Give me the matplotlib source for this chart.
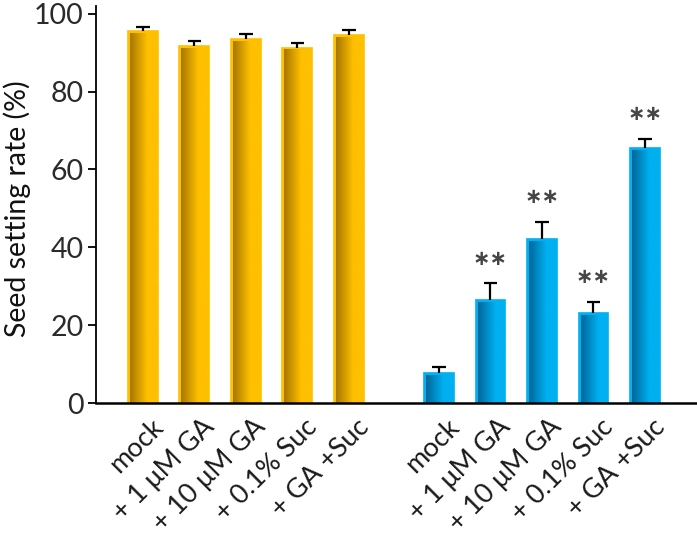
import matplotlib
matplotlib.use("Agg")
import matplotlib.pyplot as plt
import matplotlib.transforms as mtransforms
import numpy as np
from matplotlib.colors import LinearSegmentedColormap

plt.rcParams['font.family'] = ['Lato', 'DejaVu Sans']

labels = ["mock", "+ 1 μM GA", "+ 10 μM GA", "+ 0.1% Suc", "+ GA +Suc"]
wt_values = [95.6, 91.8, 93.5, 91.3, 94.6]
wt_err = [0.9, 1.2, 1.3, 1.3, 1.3]
mut_values = [7.7, 26.5, 42.2, 23.1, 65.5]
mut_err = [1.6, 4.3, 4.3, 2.9, 2.4]
mut_sig = ["", "**", "**", "**", "**"]

yticks = [0, 20, 40, 60, 80, 100]

fig = plt.figure(figsize=(6.97, 5.36), dpi=100)
ax = fig.add_axes([96/697, 1-403/536, 1-96/697, (403-6)/536])

pos_wt = np.arange(5)
pos_mut = np.arange(5) + 5.75
width = 0.58
cap_half = 0.13

def grad_bars(positions, values, errs, dark, bright):
    bars = ax.bar(positions, values, width, color=bright, edgecolor=bright, linewidth=1.2, zorder=2)
    cmap = LinearSegmentedColormap.from_list("g", [(0, dark), (0.65, bright), (1, bright)])
    grad = np.linspace(0, 1, 64).reshape(1, -1)
    for b in bars:
        x0, y0 = b.get_x(), b.get_y()
        w, h = b.get_width(), b.get_height()
        ax.imshow(grad, cmap=cmap, extent=[x0 + 0.04, x0 + w - 0.02, y0, y0 + h - 0.6],
                  aspect='auto', zorder=2.5, interpolation='bicubic')
    tops = np.array(values) + np.array(errs)
    ax.vlines(positions, values, tops, color='black', linewidth=1.6, zorder=3)
    ax.hlines(tops, np.array(positions) - cap_half, np.array(positions) + cap_half,
              color='black', linewidth=1.6, zorder=3)
    return bars

grad_bars(pos_wt, wt_values, wt_err, "#A87800", "#FFC000")
grad_bars(pos_mut, mut_values, mut_err, "#00679A", "#00B0F0")

for p, v, e, s in zip(pos_mut, mut_values, mut_err, mut_sig):
    if s:
        ax.text(p, v + e + 6.3, s.replace("*", "∗"), ha='center', va='center', fontsize=15,
                color='#454545', fontweight='bold', family=['DejaVu Sans'])

ax.set_xlim(-0.91, 10.76)
ax.set_ylim(0, 102)
ax.set_yticks(yticks)
ax.set_yticklabels([str(t) for t in yticks], fontsize=20.5, color='#2a2a2a')
ax.set_xticks(list(pos_wt) + list(pos_mut))
ax.set_xticklabels([])
ax.tick_params(axis='x', length=0)

lab_trans = ax.get_xaxis_transform() + mtransforms.ScaledTranslation(16/100, -20/100, fig.dpi_scale_trans)
for p, lab in zip(list(pos_wt) + list(pos_mut), labels + labels):
    ax.text(p, 0, lab, transform=lab_trans, rotation=45, ha='right', va='center',
            rotation_mode='anchor', fontsize=19.5, color='#1a1a1a', clip_on=False)

ax.tick_params(axis='y', length=6, width=1.3, direction='out', pad=3)
ax.spines['top'].set_visible(False)
ax.spines['right'].set_visible(False)
ax.spines['left'].set_linewidth(1.3)
ax.spines['bottom'].set_linewidth(1.8)
ax.set_ylabel("Seed setting rate (%)", fontsize=20.5, color='#111111')
ax.yaxis.set_label_coords(-0.108, 0.49)

fig.savefig("out.png", dpi=100)
